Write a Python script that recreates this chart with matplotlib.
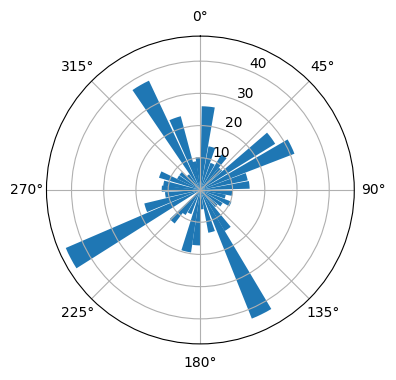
import numpy as np
import matplotlib
matplotlib.use("Agg")
import matplotlib.pyplot as plt

# bar directions (degrees, clockwise from north) and lengths
angles_deg = [5.4, 15, 25, 35, 44, 53.8, 64.4, 74, 84, 96, 105, 115, 125, 135, 145,
              153.7, 165, 175, 184, 193, 205, 215, 222, 242.2, 252, 262, 272, 280,
              291, 300, 310, 320, 330.3, 340.6, 348, 356]
radii = [26, 13.8, 9, 12.8, 9, 27.3, 31.3, 15, 15.3, 10, 8, 10.3, 8, 7, 14.8,
         43, 13.5, 6, 17.2, 19.6, 8, 9, 13.1, 45.5, 17.9, 11, 12, 11.6,
         13.4, 8, 8, 6, 37.5, 23.7, 9, 10.2]
bar_width_deg = 9

fig = plt.figure(figsize=(3.96, 3.8), dpi=100)
fig.subplots_adjust(left=0.117, right=0.895, bottom=0.095, top=0.905)
ax = fig.add_subplot(projection="polar")
ax.set_theta_zero_location("N")
ax.set_theta_direction(-1)

ax.bar(np.deg2rad(angles_deg), radii, width=np.deg2rad(bar_width_deg), color="tab:blue")
ax.set_rticks([10, 20, 30, 40])
ax.grid(True, color="#b0b0b0")

fig.savefig("out.png", dpi=100)
